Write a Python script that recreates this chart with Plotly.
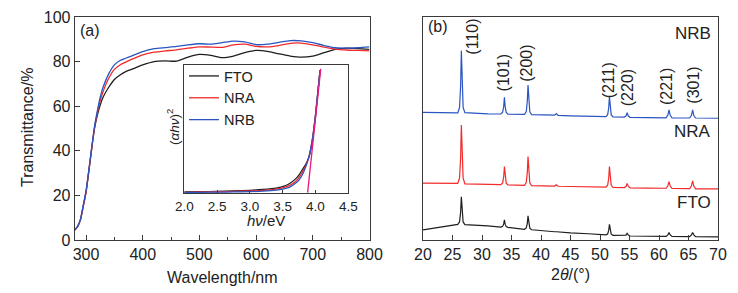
import plotly.graph_objects as go

# ---------------- Panel (a): transmittance ----------------
wavelength = [280, 285, 290, 295, 300, 305, 310, 315, 320, 325, 330, 340, 350, 360, 370, 380, 390, 400,
              420, 440, 460, 480, 500, 520, 540, 560, 580, 600, 620, 640, 660, 680, 700, 720, 740, 760, 780, 800]
trans_fto = [4.5, 6, 9, 15, 21.5, 31, 41, 50, 56, 60.5, 64, 68.5, 72, 74, 75.5, 76.5, 77.5, 78.5,
             80, 80.3, 80.2, 82, 83.2, 82.8, 81.8, 82.5, 84, 85, 84.6, 83.5, 82.5, 82, 82.5, 84, 85.5, 86, 85.8, 85.5]
trans_nra = [4.5, 6, 9, 15, 21.5, 31, 41, 50.5, 57, 62.5, 66.5, 72.5, 76.5, 78.5, 79.8, 81, 82, 83,
             84.2, 84.8, 85.3, 86, 86.6, 86.5, 86.4, 87.5, 87.8, 86.8, 86.6, 87.2, 88.2, 88.3, 87.5, 86.5, 85.6, 85.2, 85, 84.8]
trans_nrb = [4.5, 6, 9, 15.5, 22, 31.5, 41.5, 51, 58, 64, 68.5, 74.5, 78.5, 80.5, 81.5, 82.5, 83.5, 84.5,
             85.8, 86.3, 86.8, 87.5, 88, 87.8, 88.5, 89.2, 88.8, 87.6, 87.8, 88.6, 89.4, 89.3, 88.5, 87.2, 86.2, 86, 86.2, 86.6]

# ---------------- Inset: Tauc plot ----------------
photon_energy = [2.0, 2.25, 2.5, 2.75, 3.0, 3.2, 3.4, 3.5, 3.6, 3.7, 3.75, 3.8, 3.85, 3.9, 3.95, 4.0, 4.05, 4.07]
tauc_fto = [0.005, 0.007, 0.01, 0.013, 0.018, 0.025, 0.036, 0.048, 0.07, 0.11, 0.14, 0.18, 0.22, 0.28, 0.40, 0.60, 0.86, 0.96]
tauc_nra = [0.003, 0.005, 0.007, 0.01, 0.013, 0.018, 0.028, 0.038, 0.055, 0.09, 0.12, 0.16, 0.21, 0.28, 0.41, 0.61, 0.86, 0.96]
tauc_nrb = [0.002, 0.003, 0.004, 0.006, 0.008, 0.012, 0.02, 0.028, 0.042, 0.075, 0.10, 0.14, 0.20, 0.28, 0.41, 0.61, 0.86, 0.96]
fit_energy = [3.88, 4.08]
fit_value = [0.0, 0.97]

# ---------------- Panel (b): XRD ----------------
two_theta = [20, 24, 25.9, 26.2, 26.38, 26.5, 26.62, 26.8, 27.1, 29, 31, 33.2, 33.5, 33.68, 33.8, 33.92, 34.1, 34.4,
             36, 37.2, 37.5, 37.68, 37.8, 37.92, 38.1, 38.4, 40, 42.3, 42.6, 42.9, 45, 48, 51.0, 51.3, 51.48, 51.6,
             51.72, 51.9, 52.2, 54.1, 54.4, 54.6, 54.8, 55.1, 58, 61.2, 61.5, 61.7, 61.9, 62.2, 65.2, 65.5, 65.7,
             65.9, 66.2, 68, 70]
xrd_nrb = [57.2, 57.0, 57.0, 59.6, 69.4, 84.9, 69.4, 59.5, 57.1, 56.8, 56.6, 56.5, 57.3, 59.9, 64.0, 59.9, 57.2, 56.4,
           56.3, 56.3, 57.6, 62.2, 69.5, 62.1, 57.5, 56.2, 56.0, 56.0, 56.7, 55.9, 55.7, 55.5, 55.3, 56.2, 59.3, 64.3,
           59.2, 56.1, 55.2, 55.1, 55.6, 57.1, 55.6, 55.0, 54.9, 54.8, 56.0, 58.3, 55.9, 54.8, 54.7, 55.9, 58.3,
           55.8, 54.7, 54.6, 54.6]
xrd_nra = [25.5, 25.3, 25.4, 27.9, 37.0, 51.6, 36.9, 27.7, 25.2, 25.0, 24.9, 24.8, 25.6, 28.4, 32.9, 28.3, 25.5, 24.7,
           24.6, 24.5, 25.8, 30.3, 37.4, 30.2, 25.7, 24.4, 24.3, 24.2, 24.8, 24.1, 24.0, 23.8, 23.7, 24.6, 27.8, 32.9,
           27.7, 24.5, 23.6, 23.5, 24.0, 25.4, 24.0, 23.4, 23.3, 23.2, 24.3, 26.2, 24.2, 23.1, 23.0, 24.3, 26.5,
           24.2, 22.9, 22.9, 22.9]
xrd_fto = [4.5, 6.2, 7.0, 8.2, 12.6, 19.4, 12.5, 8.1, 6.9, 6.7, 6.3, 5.8, 6.1, 7.2, 9.0, 7.1, 6.0, 5.7,
           5.2, 4.8, 5.4, 7.5, 10.8, 7.4, 5.3, 4.6, 4.1, 3.7, 3.7, 3.6, 3.2, 2.8, 2.3, 2.7, 4.4, 7.0,
           4.3, 2.6, 2.1, 1.9, 2.2, 3.0, 2.2, 1.8, 1.7, 1.6, 2.3, 3.3, 2.3, 1.6, 1.5, 2.3, 3.4,
           2.3, 1.5, 1.4, 1.4]

peak_labels = ["(110)", "(101)", "(200)", "(211)", "(220)", "(221)", "(301)"]
peak_label_x = [28.4, 33.8, 37.6, 51.4, 54.8, 61.2, 65.7]
peak_label_y = [91.0, 74.9, 79.4, 71.7, 68.2, 68.6, 69.5]

sample_names = ["NRB", "NRA", "FTO"]
sample_label_y = [92.5, 48.6, 16.6]

# ---------------- styling ----------------
W, H = 738, 293
OFF = 8  # page body margin offset of the figure inside the window
FONT = "Liberation Sans, Arial, sans-serif"
C_BLACK = "#1e1e1e"
C_RED = "#f22a2a"
C_BLUE = "#2a55c0"
C_PINK = "#e8197d"
AX = "#3a3a3a"

def px_x(p):
    return (p - OFF) / W

def px_y(p):
    return 1 - (p - OFF) / H

fig = go.Figure()

# panel (a)
for name, ys, col in [("FTO", trans_fto, C_BLACK), ("NRA", trans_nra, C_RED), ("NRB", trans_nrb, C_BLUE)]:
    fig.add_trace(go.Scatter(x=wavelength, y=ys, mode="lines", line=dict(color=col, width=1.3, shape="spline", smoothing=0.6),
                             xaxis="x", yaxis="y", showlegend=False, name=name))

# inset
for name, ys, col in [("FTO", tauc_fto, C_BLACK), ("NRA", tauc_nra, C_RED), ("NRB", tauc_nrb, C_BLUE)]:
    fig.add_trace(go.Scatter(x=photon_energy, y=ys, mode="lines", line=dict(color=col, width=1.3, shape="spline", smoothing=0.5),
                             xaxis="x3", yaxis="y3", showlegend=True, name=name))
fig.add_trace(go.Scatter(x=fit_energy, y=fit_value, mode="lines", line=dict(color=C_PINK, width=1.3),
                         xaxis="x3", yaxis="y3", showlegend=False, name="fit"))

# panel (b)
for name, ys, col in [("NRB", xrd_nrb, C_BLUE), ("NRA", xrd_nra, C_RED), ("FTO", xrd_fto, C_BLACK)]:
    fig.add_trace(go.Scatter(x=two_theta, y=ys, mode="lines", line=dict(color=col, width=1.2),
                             xaxis="x2", yaxis="y2", showlegend=False, name=name))

ydom = [px_y(240), px_y(17)]
axis_common = dict(showline=True, linecolor=AX, linewidth=1, mirror=True, showgrid=False, zeroline=False,
                   automargin=False, ticks="inside", tickcolor=AX,
                   tickfont=dict(family=FONT, size=16, color="#222"))

fig.update_layout(
    template="none",
    width=W, height=H, margin=dict(l=0, r=0, t=0, b=0, autoexpand=False),
    paper_bgcolor="white", plot_bgcolor="white",
    font=dict(family=FONT, color="#222"),
    xaxis=dict(domain=[px_x(74.7), px_x(369.5)], range=[280, 800], anchor="y", tickvals=[300, 400, 500, 600, 700, 800],
               ticklen=5, minor=dict(tickvals=[350, 450, 550, 650, 750], ticks="inside", ticklen=3, tickcolor=AX), **axis_common),
    yaxis=dict(domain=ydom, range=[0, 100], anchor="x", tickvals=[0, 20, 40, 60, 80, 100], ticklen=5, **axis_common),
    xaxis2=dict(domain=[px_x(423), px_x(718)], range=[20, 70], anchor="y2", tickvals=list(range(20, 71, 5)),
                ticklen=5, **axis_common),
    yaxis2=dict(domain=ydom, range=[0, 100], anchor="x2", showline=True, linecolor=AX, linewidth=1, mirror=True,
                showgrid=False, zeroline=False, showticklabels=False, ticks="", automargin=False),
    xaxis3=dict(domain=[px_x(184.3), px_x(348.3)], range=[2.0, 4.5], anchor="y3",
                tickvals=[2.0, 2.5, 3.0, 3.5, 4.0, 4.5], ticktext=["2.0", "2.5", "3.0", "3.5", "4.0", "4.5"], ticklen=3,
                **{**axis_common, "tickfont": dict(family=FONT, size=13.5, color="#222")}),
    yaxis3=dict(domain=[px_y(193.3), px_y(65)], range=[-0.005, 1.0], anchor="x3", showline=True, linecolor=AX,
                linewidth=1, mirror=True, showgrid=False, zeroline=False, showticklabels=False, ticks="", automargin=False),
    legend=dict(x=px_x(184), y=px_y(60), xanchor="left", yanchor="top", bgcolor="rgba(0,0,0,0)",
                font=dict(family=FONT, size=14.5, color="#222"), tracegroupgap=0, itemwidth=30),
)

ann = []
def text(x, y, s, size=15, angle=0, xanchor="center", yanchor="middle", xref="paper", yref="paper"):
    ann.append(dict(x=x, y=y, text=s, showarrow=False, textangle=angle, xanchor=xanchor, yanchor=yanchor,
                    xref=xref, yref=yref, font=dict(family=FONT, size=size, color="#222")))

text(px_x(27), px_y(128), "Transmittance/%", 16, -90)
text(px_x(222), px_y(277), "Wavelength/nm", 16)
text(px_x(570), px_y(274), "2<i>θ</i>/(°)", 16)
text(px_x(173), px_y(127), "(<i>αhν</i>)<sup>2</sup>", 13.5, -90)
text(px_x(266), px_y(220), "<i>hν</i>/eV", 15)
text(px_x(78), px_y(30), "(a)", 16, xanchor="left")
text(px_x(426), px_y(27), "(b)", 16, xanchor="left")
for name, yv in zip(sample_names, sample_label_y):
    text(69.1, yv, name, 17, xanchor="right", xref="x2", yref="y2")
for lab, xv, yv in zip(peak_labels, peak_label_x, peak_label_y):
    text(xv, yv, lab, 16, angle=-90, xref="x2", yref="y2")
fig.update_layout(annotations=ann)

fig.write_html("out.html")
